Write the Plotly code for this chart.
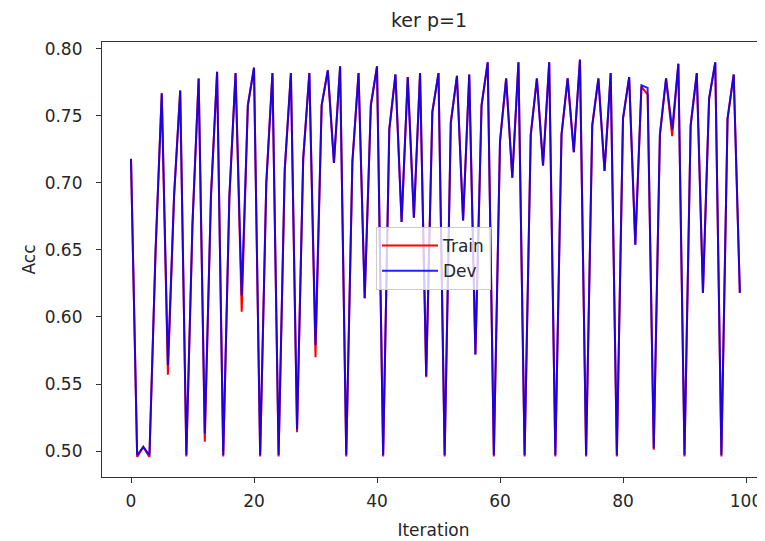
import plotly.graph_objects as go

iterations = list(range(100))

dev_acc = [
    0.718, 0.497, 0.503, 0.497, 0.650, 0.767, 0.564, 0.690, 0.769, 0.497,
    0.670, 0.778, 0.513, 0.690, 0.783, 0.497, 0.690, 0.782, 0.616, 0.758,
    0.786, 0.497, 0.700, 0.782, 0.497, 0.710, 0.782, 0.516, 0.718, 0.782,
    0.579, 0.758, 0.784, 0.715, 0.787, 0.497, 0.716, 0.782, 0.614, 0.758,
    0.787, 0.497, 0.740, 0.781, 0.671, 0.779, 0.674, 0.782, 0.556, 0.753,
    0.782, 0.497, 0.745, 0.780, 0.672, 0.781, 0.572, 0.758, 0.790, 0.497,
    0.731, 0.778, 0.704, 0.790, 0.497, 0.736, 0.778, 0.713, 0.790, 0.497,
    0.736, 0.778, 0.723, 0.792, 0.497, 0.743, 0.778, 0.709, 0.782, 0.497,
    0.748, 0.779, 0.654, 0.773, 0.771, 0.502, 0.736, 0.778, 0.740, 0.789,
    0.497, 0.743, 0.782, 0.618, 0.763, 0.790, 0.497, 0.748, 0.781, 0.618,
]

train_acc = [
    0.718, 0.4955, 0.503, 0.4955, 0.650, 0.767, 0.557, 0.690, 0.769, 0.496,
    0.670, 0.778, 0.507, 0.690, 0.783, 0.496, 0.690, 0.782, 0.604, 0.758,
    0.786, 0.496, 0.700, 0.782, 0.496, 0.710, 0.782, 0.514, 0.718, 0.782,
    0.570, 0.758, 0.784, 0.715, 0.787, 0.496, 0.716, 0.782, 0.614, 0.758,
    0.787, 0.496, 0.740, 0.781, 0.671, 0.779, 0.674, 0.782, 0.555, 0.753,
    0.782, 0.496, 0.745, 0.780, 0.672, 0.781, 0.572, 0.758, 0.790, 0.496,
    0.731, 0.778, 0.704, 0.790, 0.496, 0.736, 0.778, 0.713, 0.790, 0.496,
    0.736, 0.778, 0.723, 0.792, 0.496, 0.743, 0.778, 0.709, 0.782, 0.496,
    0.748, 0.779, 0.654, 0.772, 0.766, 0.501, 0.736, 0.778, 0.735, 0.789,
    0.496, 0.743, 0.782, 0.618, 0.763, 0.790, 0.496, 0.748, 0.781, 0.618,
]

x_ticks = [0, 20, 40, 60, 80, 100]
y_ticks = [0.50, 0.55, 0.60, 0.65, 0.70, 0.75, 0.80]

FONT = "DejaVu Sans"
AXIS_COLOR = "#333333"
TEXT_COLOR = "#262626"

# the page body adds an 8px offset, so the figure is 8px smaller each way
W, H = 757, 533

fig = go.Figure()
fig.add_trace(go.Scatter(x=iterations, y=train_acc, mode="lines", name="Train",
                         line=dict(color="#ff0000", width=2)))
fig.add_trace(go.Scatter(x=iterations, y=dev_acc, mode="lines", name="Dev",
                         opacity=0.87,
                         line=dict(color="#0000ff", width=2)))

fig.update_layout(
    width=W, height=H,
    margin=dict(l=94, r=0, t=34, b=64, autoexpand=False),
    paper_bgcolor="white", plot_bgcolor="white",
    font=dict(family=FONT, size=17, color=TEXT_COLOR),
    title=dict(text="ker p=1", x=421 / W, xanchor="center", xref="container",
               y=1 - 12 / H, yanchor="middle", yref="container",
               font=dict(family=FONT, size=19, color=TEXT_COLOR)),
    showlegend=True,
    legend=dict(x=(376 - 102) / 663, y=(477 - 227) / 435, xanchor="left", yanchor="top",
                bgcolor="rgba(255,255,255,0.8)", bordercolor="#cccccc", borderwidth=1,
                itemwidth=56,
                font=dict(family=FONT, size=17, color=TEXT_COLOR)),
)

fig.update_xaxes(
    range=[-4.715, 103.09], tickvals=x_ticks, ticktext=[str(v) for v in x_ticks],
    showgrid=False, zeroline=False, showline=True, mirror=True, automargin=False,
    linecolor=AXIS_COLOR, linewidth=1.2, ticks="outside", ticklen=5,
    tickcolor=AXIS_COLOR, tickfont=dict(size=17), ticklabelstandoff=3,
    title=dict(text="Iteration", font=dict(size=17), standoff=14),
)
fig.update_yaxes(
    range=[0.4806, 0.8052], tickvals=y_ticks, tickformat=".2f",
    showgrid=False, zeroline=False, showline=True, mirror=False, automargin=False,
    linecolor=AXIS_COLOR, linewidth=1.2, ticks="outside", ticklen=5,
    tickcolor=AXIS_COLOR, tickfont=dict(size=17), ticklabelstandoff=10,
    title=dict(text="Acc", font=dict(size=17), standoff=4),
)

fig.write_html("out.html")
